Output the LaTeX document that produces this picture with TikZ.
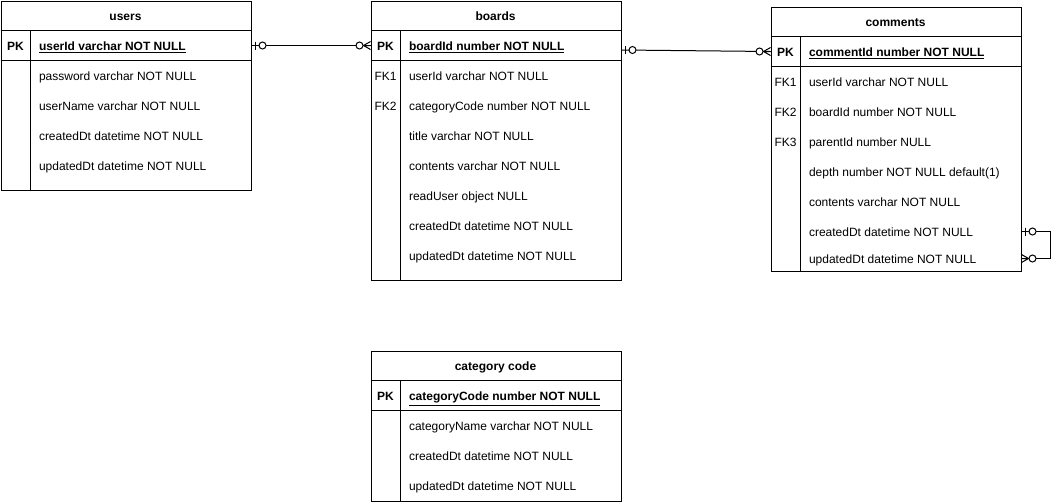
\documentclass[tikz,border=0pt]{standalone}
\usepackage{fontspec}
\setmainfont{Liberation Sans}
\usetikzlibrary{calc,%
		positioning}

\newcommand{\erfont}{\fontsize{12}{14}\selectfont}

\tikzset{
  tbl/.style={draw, rectangle, minimum width=250pt, inner sep=0pt, anchor=north west},
  ttl/.style={inner sep=0pt, text height=10.6pt, text depth=0pt, font=\erfont\bfseries},
  key/.style={inner sep=0pt, text height=10.6pt, text depth=0pt},
  pkey/.style={key, font=\erfont\bfseries},
  fld/.style={inner sep=0pt, text height=10.6pt, text depth=0pt, anchor=west},
  pkfld/.style={fld, font=\erfont\bfseries},
  zeroone/.pic={\draw (4,-4) -- (4,4); \draw[fill=white] (11,0) circle (3.5pt);},
  zeromany/.pic={\draw (0,-4) -- (7,0) -- (0,4) (7,0) -- (0,0); \draw[fill=white] (11,0) circle (3.5pt);}
}

\begin{document}
\begin{tikzpicture}[x=1pt,y=-1pt,line width=1pt,font=\erfont]
\useasboundingbox (0,0) rectangle (1060,501);

% users
\begin{scope}[shift={(0.5,0.5)}]
\node[tbl, minimum height=189pt] (users) at (0,0) {};
\draw (0,30) -- (250,30) (0,60) -- (250,60) (30,30) -- (30,189);
\node[ttl] (usersT) at (125,15) {users};
\node[pkey] (usersK) at (15,45) {PK};
\node[pkfld] (usersPK) at (38,45) {\underline{userId varchar NOT NULL}};
\foreach \f [count=\i] in {password varchar NOT NULL, userName varchar NOT NULL,
  createdDt datetime NOT NULL, updatedDt datetime NOT NULL}
  \node[fld] (users\i) at (38,45+30*\i) {\f};
\end{scope}

% boards
\begin{scope}[shift={(370.5,0.5)}]
\node[tbl, minimum height=279pt] (boards) at (0,0) {};
\draw (0,30) -- (250,30) (0,60) -- (250,60) (30,30) -- (30,279);
\node[ttl] (boardsT) at (125,15) {boards};
\node[pkey] (boardsK) at (15,45) {PK};
\node[pkfld] (boardsPK) at (38,45) {\underline{boardId number NOT NULL}};
\foreach \k [count=\i] in {FK1, FK2}
  \node[key] (boardsK\i) at (15,45+30*\i) {\k};
\foreach \f [count=\i] in {userId varchar NOT NULL, categoryCode number NOT NULL,
  title varchar NOT NULL, contents varchar NOT NULL, readUser object NULL,
  createdDt datetime NOT NULL, updatedDt datetime NOT NULL}
  \node[fld] (boards\i) at (38,45+30*\i) {\f};
\end{scope}

% comments
\begin{scope}[shift={(770.5,6.5)}]
\node[tbl, minimum height=264pt] (comments) at (0,0) {};
\draw (0,30) -- (250,30) (0,60) -- (250,60) (30,30) -- (30,264);
\node[ttl] (commentsT) at (125,15) {comments};
\node[pkey] (commentsK) at (15,45) {PK};
\node[pkfld] (commentsPK) at (38,45) {\underline{commentId number NOT NULL}};
\foreach \k [count=\i] in {FK1, FK2, FK3}
  \node[key] (commentsK\i) at (15,45+30*\i) {\k};
\foreach \f/\y [count=\i] in {userId varchar NOT NULL/75, boardId number NOT NULL/105,
  parentId number NULL/135, depth number NOT NULL default(1)/165,
  contents varchar NOT NULL/195, createdDt datetime NOT NULL/225,
  updatedDt datetime NOT NULL/252}
  \node[fld] (comments\i) at (38,\y) {\f};
\end{scope}

% category code
\begin{scope}[shift={(370.5,350.5)}]
\node[tbl, minimum height=150pt] (category) at (0,0) {};
\draw (0,30) -- (250,30) (0,60) -- (250,60) (30,30) -- (30,150);
\node[ttl] (categoryT) at (125,15) {category code};
\node[pkey] (categoryK) at (15,45) {PK};
\node[pkfld] (categoryPK) at (38,45) {\underline{categoryCode number NOT NULL}};
\foreach \f [count=\i] in {categoryName varchar NOT NULL,
  createdDt datetime NOT NULL, updatedDt datetime NOT NULL}
  \node[fld] (category\i) at (38,45+30*\i) {\f};
\end{scope}

% relations
\draw (users.east |- usersPK) -- (boards.west |- boardsPK);
\pic at (users.east |- usersPK) {zeroone};
\pic[rotate=180] at (boards.west |- boardsPK) {zeromany};

\draw ($(boards.east |- boardsPK)+(0,4.5)$) coordinate (bcA) -- (comments.west |- commentsPK);
\pic at (bcA) {zeroone};
\pic[rotate=180] at (comments.west |- commentsPK) {zeromany};

\draw (comments.east |- comments6) -- ++(29,0) |- (comments.east |- comments7);
\pic at (comments.east |- comments6) {zeroone};
\pic at (comments.east |- comments7) {zeromany};

\end{tikzpicture}
\end{document}
